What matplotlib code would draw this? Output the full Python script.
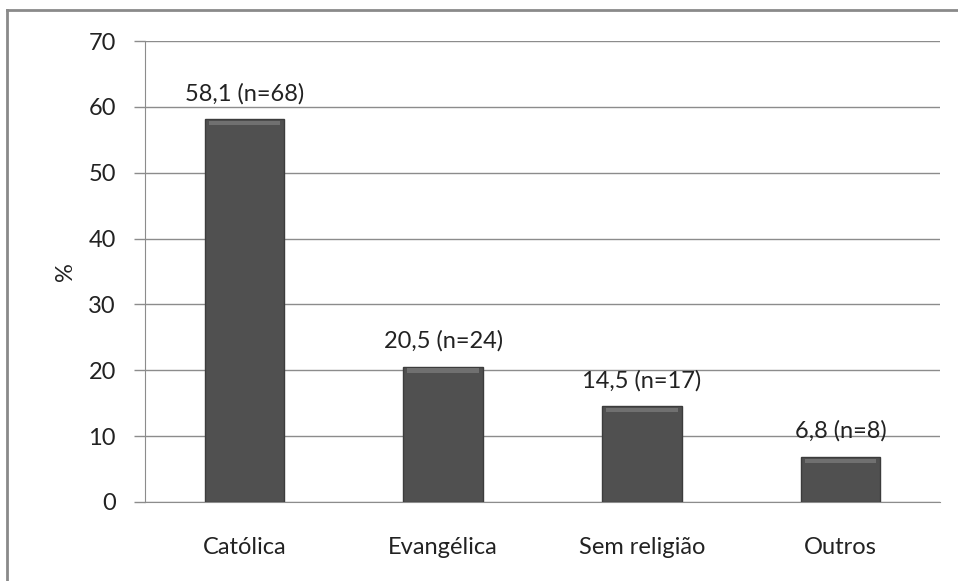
import matplotlib.pyplot as plt
from matplotlib.lines import Line2D
import numpy as np

categorias = ['Católica', 'Evangélica', 'Sem religião', 'Outros']
percentuais = [58.1, 20.5, 14.5, 6.8]
contagens = [68, 24, 17, 8]
yticks = [0, 10, 20, 30, 40, 50, 60, 70]

plt.rcParams['font.family'] = ['Lato', 'DejaVu Sans']

fig = plt.figure(figsize=(9.58, 5.81), dpi=100)
ax = fig.add_axes([0.1514, 0.136, 0.8298, 0.7934])

x = np.arange(len(categorias))
bars = ax.bar(x, percentuais, width=0.40, color='#505050',
              edgecolor='#3c3c3c', linewidth=1.0, zorder=3)

# leve efeito de relevo no topo das barras
for b in bars:
    bx, bw, bh = b.get_x(), b.get_width(), b.get_height()
    ax.bar(bx + bw / 2, 0.7, width=bw * 0.9, bottom=bh - 0.9,
           color='#707070', linewidth=0, zorder=4)

for xi, p, n in zip(x, percentuais, contagens):
    rotulo = f'{p:.1f} (n={n})'.replace('.', ',')
    ax.annotate(rotulo, (xi, p), xytext=(0, 11), textcoords='offset points',
                ha='center', va='bottom', fontsize=17, color='#222222')

ax.set_xlim(-0.5, len(categorias) - 0.5)
ax.set_ylim(0, 70)
ax.set_yticks(yticks)
ax.set_xticks(x)
ax.set_xticklabels(categorias)
ax.tick_params(axis='x', length=0, pad=25, labelsize=17, colors='#222222')
ax.tick_params(axis='y', length=8, width=1, color='#8c8c8c', pad=13,
               labelsize=17, labelcolor='#222222')
ax.yaxis.grid(True, color='#8c8c8c', linewidth=1, zorder=0)
ax.set_axisbelow(True)
for s in ['top', 'right']:
    ax.spines[s].set_visible(False)
ax.spines['left'].set_color('#8c8c8c')
ax.spines['bottom'].set_color('#8c8c8c')
ax.set_ylabel('%', fontsize=17, color='#222222', labelpad=9)

# moldura da área do gráfico
fig.add_artist(Line2D([7 / 958, 7 / 958], [0, 1 - 10 / 581], transform=fig.transFigure,
                      color='#8a8a8a', linewidth=2))
fig.add_artist(Line2D([7 / 958, 1], [1 - 10 / 581, 1 - 10 / 581], transform=fig.transFigure,
                      color='#8a8a8a', linewidth=2))

fig.savefig('out.png', dpi=100)
